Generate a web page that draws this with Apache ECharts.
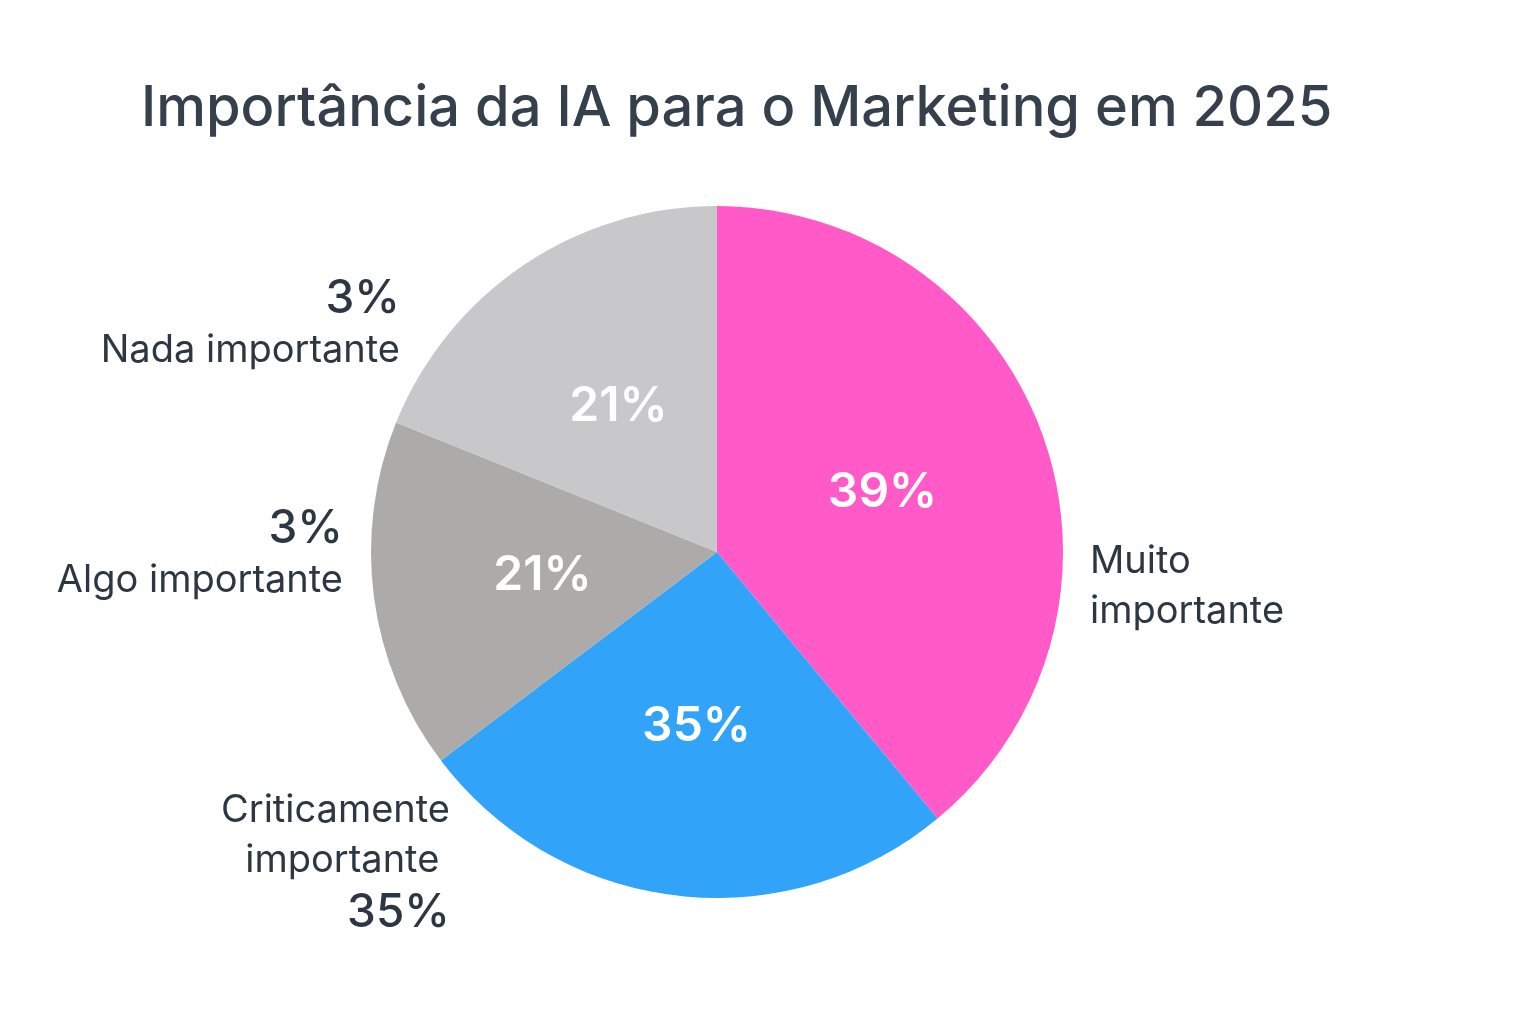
<!DOCTYPE html>
<html>
<head>
<meta charset="UTF-8">
<script src="https://cdn.jsdelivr.net/npm/echarts@6/dist/echarts.min.js"></script>
<style>html,body{margin:0;background:#fff;}#main{width:1536px;height:1024px;}</style>
</head>
<body>
<div id="main"></div>
<script>
    /*数据*/
    var categories = ['Muito importante', 'Criticamente importante', 'Algo importante', 'Nada importante'];
    var sliceValues = [39, 25.7, 16.4, 18.9];
    var innerLabels = ['39%', '35%', '21%', '21%'];
    var outerLabels = ['Muito\nimportante', 'Criticamente\n importante \n{p|35%}', '{p|3%}\nAlgo importante', '{p|3%}\nNada importante'];
    var colors = ['#ff5ac8', '#31a3f8', '#adabaa', '#c8c8ca'];

    /*外部标签位置*/
    var outerPos = [
        {x: 1090, y: 537, align: 'left'},
        {x: 450, y: 786, align: 'right'},
        {x: 343, y: 502, align: 'right'},
        {x: 400, y: 272, align: 'right'}
    ];

    var chart = echarts.init(document.getElementById('main'));
    var font = 'Inter, "Noto Sans", sans-serif';
    var center = [717, 552];

    var option = {
        backgroundColor: '#ffffff',
        title: {
            text: 'Importância da IA para o Marketing em 2025',
            left: 136,
            top: 76,
            textStyle: {fontFamily: font, fontSize: 56, fontWeight: 500, color: '#36404c'}
        },
        series: [{
            type: 'pie',
            center: center,
            radius: 346,
            startAngle: 90,
            silent: true,
            data: categories.map(function (c, i) {
                return {name: c, value: sliceValues[i], itemStyle: {color: colors[i]}};
            }),
            label: {
                position: 'inside',
                fontFamily: font, fontSize: 48, fontWeight: 600, color: '#ffffff',
                formatter: function (p) { return innerLabels[p.dataIndex]; }
            },
            labelLine: {show: false}
        }, {
            type: 'pie',
            center: center,
            radius: 346,
            startAngle: 90,
            silent: true,
            itemStyle: {color: 'rgba(0,0,0,0)'},
            data: categories.map(function (c, i) {
                return {name: c, value: sliceValues[i], labelLine: {show: false}};
            }),
            label: {
                position: 'outside',
                fontFamily: font, fontSize: 38, color: '#2d3743', lineHeight: 50,
                formatter: function (p) { return outerLabels[p.dataIndex]; },
                rich: {p: {fontFamily: font, fontSize: 46, fontWeight: 500, color: '#2d3743', lineHeight: 54}}
            },
            labelLayout: function (params) {
                var p = outerPos[params.dataIndex];
                return {x: p.x, y: p.y, align: p.align, verticalAlign: 'top'};
            }
        }]
    };
    chart.setOption(option);
</script>
</body>
</html>
